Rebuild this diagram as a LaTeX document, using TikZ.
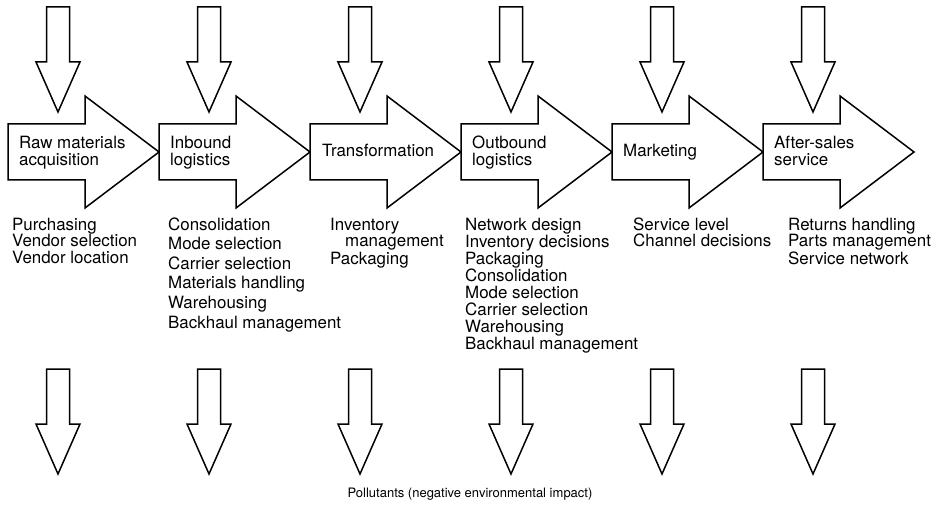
\documentclass[tikz,border=0pt]{standalone}
\usepackage{fontspec}
\setmainfont{TeX Gyre Heros}

% stacked lines, baseline of the stack at the first line
\newcommand\rows[2]{\vtop{\baselineskip=#1pt\lineskiplimit=-20pt\halign{##\hfil\cr#2\crcr}}}

\tikzset{
  outline/.style={draw=black, line width=1.5pt, fill=white, line join=miter},
  label/.style={anchor=base west, inner sep=0pt, font=\fontsize{16.9}{17}\selectfont},
  note/.style={anchor=base, inner sep=0pt, font=\fontsize{13}{14}\selectfont},
  % horizontal block arrow of the value chain
  flow/.pic={\draw[outline] (0,-28) -- (77,-28) -- (77,-56) -- (151,0)
                -- (77,56) -- (77,28) -- (0,28) -- cycle;},
  % vertical hollow arrow (inputs above, outputs below)
  drop/.pic={\draw[outline] (-11.5,0) -- (11.5,0) -- (11.5,55) -- (22,55)
                -- (0,105) -- (-22,55) -- (-11.5,55) -- cycle;}
}

\begin{document}
\begin{tikzpicture}[x=1pt, y=-1pt]
  \useasboundingbox (0,0) rectangle (937,505);

  % stages of the chain, tip of each touching the next
  \foreach \i in {0,...,5}{
    \pgfmathsetmacro\L{8+151*\i}
    \pgfmathsetmacro\C{\L+50}
    \pic at (\L,152) {flow};
    \pic at (\C,7) {drop};
    \pic at (\C,369) {drop};
  }

  % stage names
  \node[label] (raw)   at (19,149)  {\rows{17}{Raw materials\cr acquisition}};
  \node[label] (inb)   at (170,149) {\rows{17}{Inbound\cr logistics}};
  \node[label] (trans) at (322,157) {Transformation};
  \node[label] (outb)  at (472,149) {\rows{17}{Outbound\cr logistics}};
  \node[label] (mkt)   at (623,157) {Marketing};
  \node[label] (after) at (774,149) {\rows{17}{After-sales\cr service}};

  % activities of each stage
  \node[label] (l1) at (12,230)  {\rows{16.8}{Purchasing\cr Vendor selection\cr Vendor location}};
  \node[label] (l2) at (168,230) {\rows{19.6}{Consolidation\cr Mode selection\cr Carrier selection\cr
      Materials handling\cr Warehousing\cr Backhaul management}};
  \node[label] (l3) at (330,230) {\rows{17}{Inventory\cr \hskip15pt management\cr Packaging}};
  \node[label] (l4) at (465,230) {\rows{17.1}{Network design\cr Inventory decisions\cr Packaging\cr
      Consolidation\cr Mode selection\cr Carrier selection\cr Warehousing\cr Backhaul management}};
  \node[label] (l5) at (633,230) {\rows{17}{Service level\cr Channel decisions}};
  \node[label] (l6) at (788,230) {\rows{17}{Returns handling\cr Parts management\cr Service network}};

  \node[note] (poll) at (470,497) {Pollutants (negative environmental impact)};
\end{tikzpicture}
\end{document}
